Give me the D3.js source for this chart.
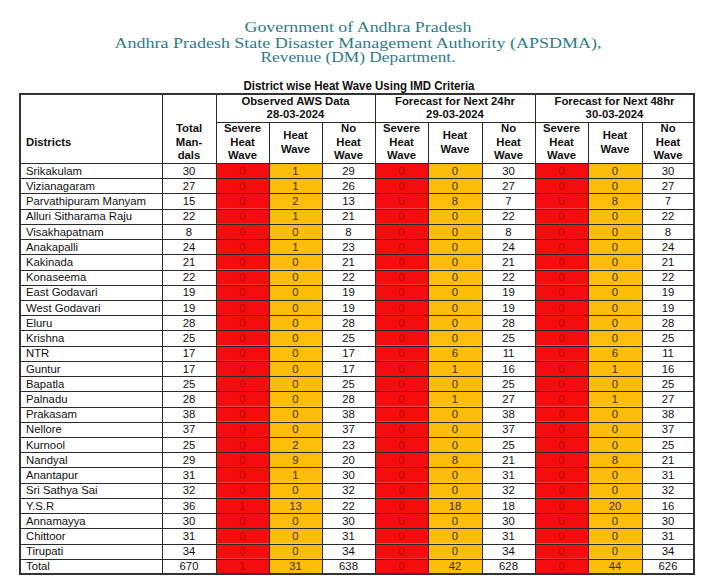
<!DOCTYPE html>
<html><head><meta charset="utf-8">
<script src="https://cdn.jsdelivr.net/npm/d3@7"></script>
<style>html,body{margin:0;padding:0;background:#fff;}svg{display:block;}</style>
</head><body>
<script>
const titleLines = ["Government of Andhra Pradesh","Andhra Pradesh State Disaster Management Authority (APSDMA),","Revenue (DM) Department."];
const tableTitle = "District wise Heat Wave Using IMD Criteria";
const groups = [{name:"Observed AWS Data",date:"28-03-2024"},{name:"Forecast for Next 24hr",date:"29-03-2024"},{name:"Forecast for Next 48hr",date:"30-03-2024"}];
const subHeaders = [["Severe","Heat","Wave"],["Heat","Wave"],["No","Heat","Wave"]];
const districts = ["Srikakulam","Vizianagaram","Parvathipuram Manyam","Alluri Sitharama Raju","Visakhapatnam","Anakapalli","Kakinada","Konaseema","East Godavari","West Godavari","Eluru","Krishna","NTR","Guntur","Bapatla","Palnadu","Prakasam","Nellore","Kurnool","Nandyal","Anantapur","Sri Sathya Sai","Y.S.R","Annamayya","Chittoor","Tirupati","Total"];
const totalMandals = [30,27,15,22,8,24,21,22,19,19,28,25,17,17,25,28,38,37,25,29,31,32,36,30,31,34,670];
const obsSevere = [0,0,0,0,0,0,0,0,0,0,0,0,0,0,0,0,0,0,0,0,0,0,1,0,0,0,1];
const obsHeat   = [1,1,2,1,0,1,0,0,0,0,0,0,0,0,0,0,0,0,2,9,1,0,13,0,0,0,31];
const obsNo     = [29,26,13,21,8,23,21,22,19,19,28,25,17,17,25,28,38,37,23,20,30,32,22,30,31,34,638];
const f24Severe = [0,0,0,0,0,0,0,0,0,0,0,0,0,0,0,0,0,0,0,0,0,0,0,0,0,0,0];
const f24Heat   = [0,0,8,0,0,0,0,0,0,0,0,0,6,1,0,1,0,0,0,8,0,0,18,0,0,0,42];
const f24No     = [30,27,7,22,8,24,21,22,19,19,28,25,11,16,25,27,38,37,25,21,31,32,18,30,31,34,628];
const f48Severe = [0,0,0,0,0,0,0,0,0,0,0,0,0,0,0,0,0,0,0,0,0,0,0,0,0,0,0];
const f48Heat   = [0,0,8,0,0,0,0,0,0,0,0,0,6,1,0,1,0,0,0,8,0,0,20,0,0,0,44];
const f48No     = [30,27,7,22,8,24,21,22,19,19,28,25,11,16,25,27,38,37,25,21,31,32,16,30,31,34,626];

const W = 720, H = 578;
const svg = d3.select("body").append("svg").attr("width", W).attr("height", H);

// Title block
const titleBaselines = [32, 47.5, 62];
const titleWidths = [227, 487, 195];
svg.selectAll("text.title").data(titleLines).join("text")
  .attr("class","title")
  .attr("x", 358).attr("y", (d,i)=>titleBaselines[i])
  .attr("text-anchor","middle")
  .attr("font-family","'Liberation Serif','DejaVu Serif',serif")
  .attr("font-size", 14.5)
  .attr("fill","#2d7c8a")
  .attr("textLength",(d,i)=>titleWidths[i])
  .attr("lengthAdjust","spacingAndGlyphs")
  .text(d=>d);

svg.append("text").attr("x",359).attr("y",89.5).attr("text-anchor","middle")
  .attr("font-family","'Liberation Sans Narrow','Liberation Sans',Arial,sans-serif")
  .attr("font-weight","bold").attr("font-size",12).attr("fill","#111")
  .attr("textLength",231).attr("lengthAdjust","spacingAndGlyphs")
  .text(tableTitle);

// Columns
const colKeys = ["district","total","os","oh","on","f24s","f24h","f24n","f48s","f48h","f48n"];
const colEdges = [20,162,216,269,322,375,428,482,535,588,642,694];
const xLeft = d3.scaleOrdinal().domain(colKeys).range(colEdges.slice(0,-1));
const xRight = d3.scaleOrdinal().domain(colKeys).range(colEdges.slice(1));
const colValues = {total: totalMandals, os: obsSevere, oh: obsHeat, on: obsNo, f24s: f24Severe, f24h: f24Heat, f24n: f24No, f48s: f48Severe, f48h: f48Heat, f48n: f48No};
const colKind = {total:"plain", os:"severe", oh:"heat", on:"plain", f24s:"severe", f24h:"heat", f24n:"plain", f48s:"severe", f48h:"heat", f48n:"plain"};
const fills = {severe:"#f50d0d", heat:"#fdbd0a", plain:"#ffffff"};
const textFills = {severe:"#b80a0a", heat:"#3d2e00", plain:"#111"};

const tableTop = 94, groupBottom = 122, headBottom = 163, tableBottom = 574;
const y = d3.scaleBand().domain(districts).range([headBottom, tableBottom]);

const font = "'Liberation Sans',Arial,Helvetica,sans-serif";
const fs = 11.3;

// Cell backgrounds
const cells = [];
districts.forEach((d,i)=>{
  colKeys.slice(1).forEach(k=>cells.push({row:d, key:k, v:colValues[k][i], kind:colKind[k]}));
});
svg.append("g").selectAll("rect").data(cells.filter(c=>c.kind!=="plain")).join("rect")
  .attr("x", c=>xLeft(c.key)).attr("y", c=>y(c.row))
  .attr("width", c=>xRight(c.key)-xLeft(c.key)).attr("height", y.bandwidth())
  .attr("fill", c=>fills[c.kind]);

// Grid lines
const grid = svg.append("g").attr("stroke","#2a2a2a").attr("stroke-width",1).attr("shape-rendering","crispEdges");
grid.selectAll("line.h").data(districts).join("line")
  .attr("x1",20).attr("x2",694)
  .attr("y1",d=>Math.round(y(d))+0.5).attr("y2",d=>Math.round(y(d))+0.5)
  .attr("stroke-width",1.3);
grid.append("line").attr("x1",216).attr("x2",694).attr("y1",groupBottom+0.5).attr("y2",groupBottom+0.5);
const vEdges = colEdges.slice(1,-1);
grid.selectAll("line.v").data(vEdges).join("line")
  .attr("x1",d=>d+0.5).attr("x2",d=>d+0.5)
  .attr("y1",d=>(d===162 || d===216 || d===375 || d===535) ? tableTop : groupBottom)
  .attr("y2",tableBottom);
svg.append("rect").attr("x",20).attr("y",tableTop).attr("width",674).attr("height",tableBottom-tableTop)
  .attr("fill","none").attr("stroke","#333").attr("stroke-width",2);

// Header text
const hdr = svg.append("g").attr("font-family",font).attr("font-weight","bold").attr("font-size",fs).attr("fill","#111").attr("text-anchor","middle");
hdr.append("text").attr("x",26).attr("y",146).attr("text-anchor","start").text("Districts");
["Total","Man-","dals"].forEach((t,i)=>hdr.append("text").attr("x",(162+216)/2).attr("y",132+i*13.5).text(t));
const groupSpans = [[216,375],[375,535],[535,694]];
groups.forEach((g,gi)=>{
  const cx = (groupSpans[gi][0]+groupSpans[gi][1])/2;
  hdr.append("text").attr("x",cx).attr("y",104.5).text(g.name);
  hdr.append("text").attr("x",cx).attr("y",118).text(g.date);
  const keys = colKeys.slice(2+gi*3, 5+gi*3);
  keys.forEach((k,si)=>{
    const lines = subHeaders[si];
    const sx = (xLeft(k)+xRight(k))/2;
    const y0 = lines.length===3 ? 132 : 139;
    lines.forEach((t,li)=>hdr.append("text").attr("x",sx).attr("y",y0+li*13.5).text(t));
  });
});

// Body text
const body = svg.append("g").attr("font-family",font).attr("font-size",fs);
body.selectAll("text.d").data(districts).join("text")
  .attr("x",26).attr("y",d=>y(d)+y.bandwidth()/2+4).attr("fill","#111").text(d=>d);
body.selectAll("text.v").data(cells).join("text")
  .attr("x",c=>(xLeft(c.key)+xRight(c.key))/2)
  .attr("y",c=>y(c.row)+y.bandwidth()/2+4)
  .attr("text-anchor","middle")
  .attr("fill",c=>textFills[c.kind])
  .text(c=>c.v);
</script>
</body></html>
